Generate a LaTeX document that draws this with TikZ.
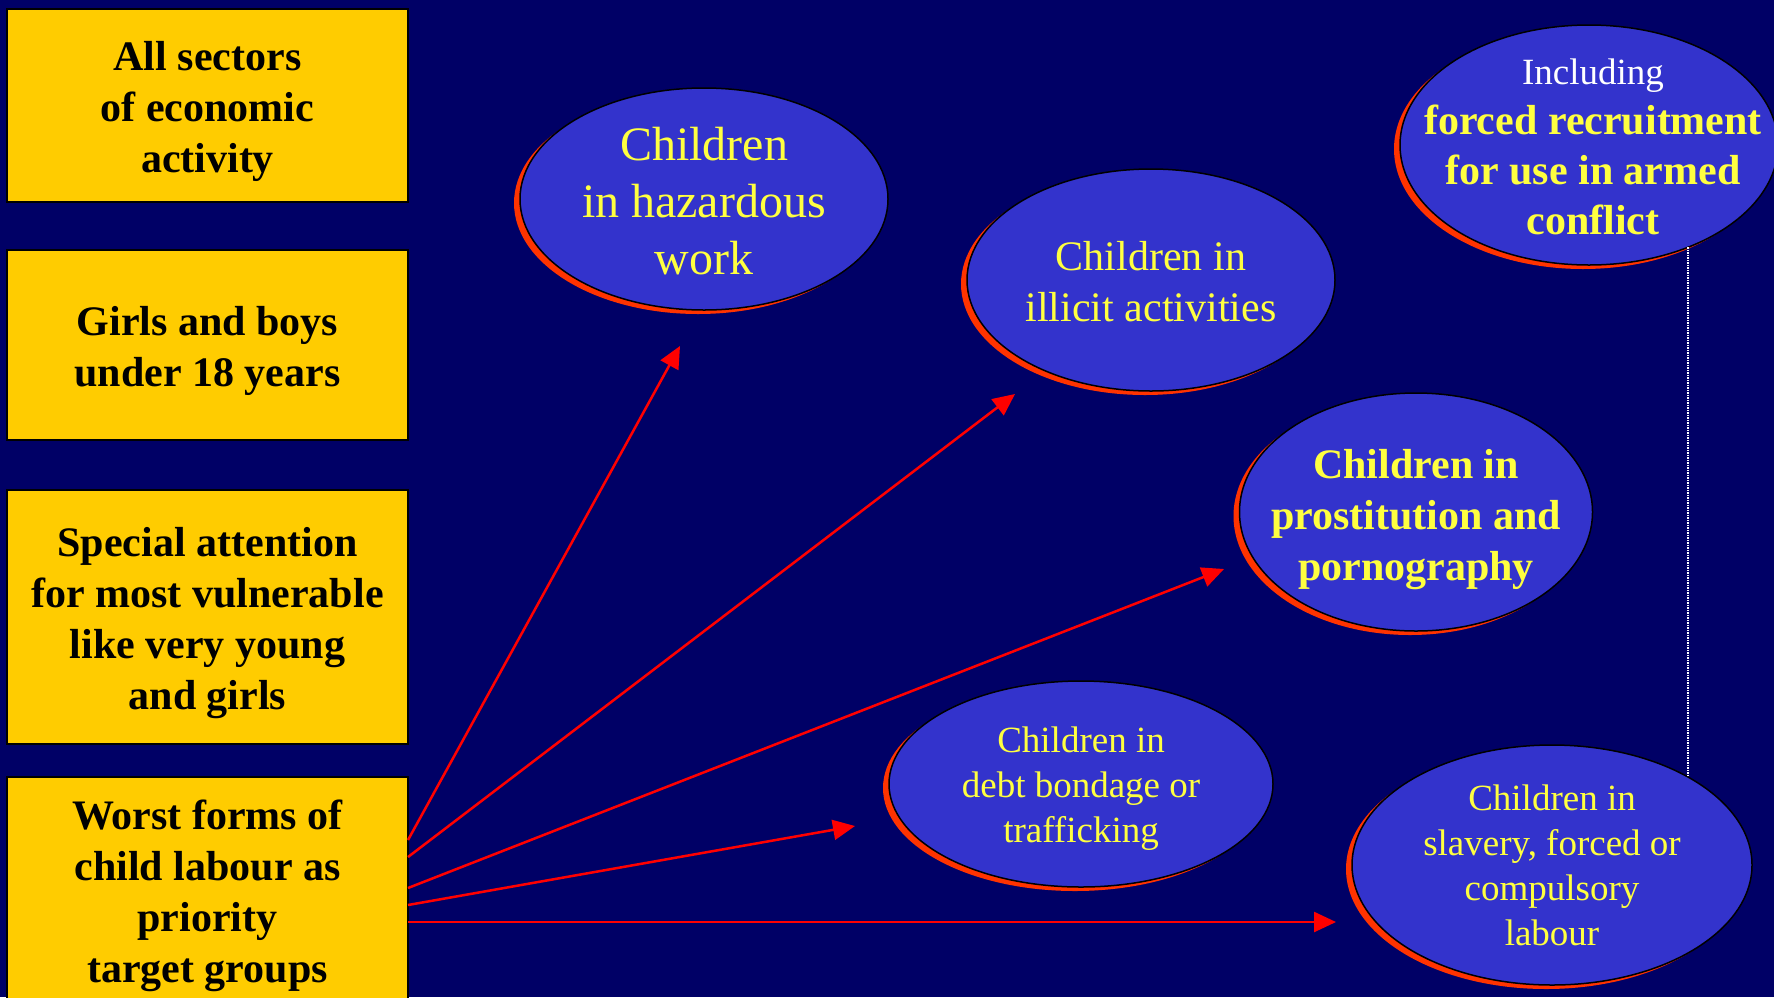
\documentclass[tikz,border=0pt]{standalone}
\usepackage{fontspec}
\setmainfont{Liberation Serif}
\usetikzlibrary{arrows.meta,shapes.geometric,shadows}
\definecolor{navybg}{HTML}{000066}
\definecolor{boxyellow}{HTML}{FFCC00}
\definecolor{ellblue}{HTML}{3333CC}
\definecolor{shadred}{HTML}{FF3300}
\definecolor{txtyellow}{HTML}{FFFF40}
\definecolor{arrred}{HTML}{FF0000}
\newcommand{\ctext}[2][-0.28em]{\makebox[0pt][c]{\smash{\raisebox{#1}{\begin{tabular}{@{}c@{}}#2\end{tabular}}}}}
\newcommand{\fs}[2]{\fontsize{#1}{#2}\selectfont}
\begin{document}
\begin{tikzpicture}[x=1pt,y=-1pt,
  box/.style={rectangle, fill=boxyellow, draw=black, line width=1.5pt, minimum width=401pt,
    inner sep=0pt, outer sep=0pt, text=black, font=\bfseries\fs{42}{51}},
  ell/.style={ellipse, fill=ellblue, draw=black, line width=1.5pt, inner sep=0pt, outer sep=0pt,
    text=txtyellow,
    general shadow={fill=shadred, shadow xshift=-6pt, shadow yshift=-4pt}},
  arr/.style={draw=arrred, line width=2.5pt, -{Triangle[length=22pt,width=20pt]}},
  dotline/.style={draw=white, line width=1.5pt, densely dotted}
]
\useasboundingbox (0,0) rectangle (1774,997);
\fill[navybg] (0,0) rectangle (1774,997);

\begin{scope}
\clip (0,0) rectangle (1774,997);
\node[box, minimum height=193pt] (b1) at (207.5,105.5) {\ctext[-0.29em]{All sectors\\of economic\\activity}};
\node[box, minimum height=190pt] (b2) at (207.5,345) {\ctext[-0.29em]{Girls and boys\\under 18 years}};
\node[box, minimum height=254pt] (b3) at (207.5,617) {\ctext[-0.29em]{Special attention\\for most vulnerable\\like very young\\and girls}};
\node[box, minimum height=228pt] (b4) at (207.5,891) {\ctext[-0.26em]{Worst forms of\\child labour as\\priority\\target groups}};

\node[ell, minimum width=368pt, minimum height=222pt] (e1) at (704,199)
  {\fs{48}{57}\ctext{Children\\in hazardous\\work}};
\node[ell, minimum width=368pt, minimum height=222pt] (e2) at (1151,280)
  {\fs{42}{51}\ctext{Children in\\illicit activities}};
\node[ell, minimum width=378pt, minimum height=240pt] (e3) at (1589,145)
  {\fs{42}{50}\hspace*{8pt}\ctext[-0.26em]{{\color{white}\fs{37}{45}Including}\\\bfseries forced recruitment\\\bfseries for use in armed\\\bfseries conflict}};
\node[ell, minimum width=353pt, minimum height=238pt] (e4) at (1416,512)
  {\fs{42}{51}\bfseries\ctext[-0.32em]{Children in\\prostitution and\\pornography}};
\node[ell, minimum width=384pt, minimum height=206pt] (e5) at (1081,784)
  {\fs{37}{45}\ctext{Children in\\debt bondage or\\trafficking}};
\node[ell, minimum width=400pt, minimum height=240pt] (e6) at (1552,865)
  {\fs{37}{45}\ctext{Children in\\slavery, forced or\\compulsory\\labour}};
\end{scope}

\coordinate (s1) at ([yshift=-63pt]b4.north east);
\coordinate (s2) at ([yshift=-80pt]b4.north east);
\coordinate (s3) at ([yshift=-111pt]b4.north east);
\coordinate (s4) at ([yshift=-128pt]b4.north east);
\coordinate (s5) at ([yshift=-145pt]b4.north east);
\coordinate (t1) at (680,346);
\coordinate (t2) at (1015,394);
\coordinate (t3) at (1224,569);
\coordinate (t4) at (855,826);
\coordinate (t5) at (1336,922);

\draw[arr] (s1) -- (t1);
\draw[arr] (s2) -- (t2);
\draw[arr] (s3) -- (t3);
\draw[arr] (s4) -- (t4);
\draw[arr] (s5) -- (t5);

\draw[dotline] (e3.314) -- (e3.314 |- e6.33);
\end{tikzpicture}
\end{document}
